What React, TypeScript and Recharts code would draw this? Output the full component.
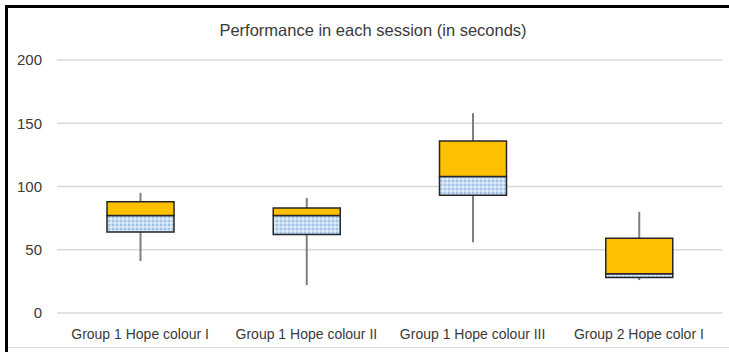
import { Bar, CartesianGrid, ComposedChart, XAxis, YAxis } from "recharts";

const CATEGORIES = [
  "Group 1 Hope colour I",
  "Group 1 Hope colour II",
  "Group 1 Hope colour III",
  "Group 2 Hope color I",
];
const MINS = [41, 22, 56, 26];
const Q1S = [64, 62, 93, 28];
const MEDIANS = [77, 77, 108, 31];
const Q3S = [88, 83, 136, 59];
const MAXS = [95, 91, 158, 80];
const Y_TICKS = [0, 50, 100, 150, 200];

const FONT = '"Liberation Sans", Arial, sans-serif';
const TEXT = "#3a3a3a";

const data = CATEGORIES.map((name, i) => ({
  name,
  wBase: MINS[i],
  wRange: MAXS[i] - MINS[i],
  base: Q1S[i],
  lower: MEDIANS[i] - Q1S[i],
  upper: Q3S[i] - MEDIANS[i],
}));

function Whisker(props: any) {
  const { x, y, width, height } = props;
  const cx = x + width / 2;
  return <line x1={cx} x2={cx} y1={y} y2={y + height} stroke="#7f7f7f" strokeWidth={2} />;
}

export default function App() {
  return (
    <div
      style={{
        position: "absolute",
        left: 0,
        top: 0,
        width: 729,
        height: 352,
        background: "#fff",
        fontFamily: FONT,
      }}
    >
      <div style={{ position: "absolute", left: 5, top: 5, width: 3, height: 347, background: "#000" }} />
      <div style={{ position: "absolute", left: 5, top: 5, width: 724, height: 3, background: "#000" }} />
      <div style={{ position: "absolute", left: 8, top: 347, width: 721, height: 1, background: "#e0e0e0" }} />
      <div
        style={{
          position: "absolute",
          left: 0,
          width: 746,
          top: 21,
          textAlign: "center",
          fontSize: 16.5,
          color: TEXT,
        }}
      >
        Performance in each session (in seconds)
      </div>
      <ComposedChart
        width={729}
        height={352}
        data={data}
        margin={{ top: 60, right: 7, bottom: 9, left: 0 }}
        style={{ position: "absolute", left: 0, top: 0 }}
      >
        <defs>
          <pattern id="dots" width="4" height="4" patternUnits="userSpaceOnUse">
            <rect width="4" height="4" fill="#c9ddf2" />
            <circle cx="1" cy="1" r="0.9" fill="#8fb8e0" />
            <circle cx="3" cy="3" r="0.8" fill="#ffffff" />
          </pattern>
        </defs>
        <CartesianGrid vertical={false} stroke="#d9d9d9" strokeWidth={1.5} />
        <XAxis
          dataKey="name"
          axisLine={false}
          tickLine={false}
          height={30}
          tickMargin={10}
          interval={0}
          tick={{ fill: TEXT, fontSize: 14, fontFamily: FONT }}
        />
        <XAxis xAxisId="w" dataKey="name" hide />
        <YAxis
          domain={[0, 200]}
          ticks={Y_TICKS}
          width={57}
          axisLine={false}
          tickLine={false}
          tickMargin={9}
          tick={{ fill: TEXT, fontSize: 15, fontFamily: FONT }}
        />
        <Bar xAxisId="w" dataKey="wBase" stackId="w" fill="transparent" barSize={67} isAnimationActive={false} />
        <Bar
          xAxisId="w"
          dataKey="wRange"
          stackId="w"
          barSize={67}
          shape={Whisker}
          isAnimationActive={false}
        />
        <Bar dataKey="base" stackId="b" fill="transparent" barSize={67} isAnimationActive={false} />
        <Bar
          dataKey="lower"
          stackId="b"
          fill="url(#dots)"
          stroke="#262626"
          strokeWidth={1.5}
          barSize={67}
          isAnimationActive={false}
        />
        <Bar
          dataKey="upper"
          stackId="b"
          fill="#ffc000"
          stroke="#262626"
          strokeWidth={1.5}
          barSize={67}
          isAnimationActive={false}
        />
      </ComposedChart>
    </div>
  );
}
